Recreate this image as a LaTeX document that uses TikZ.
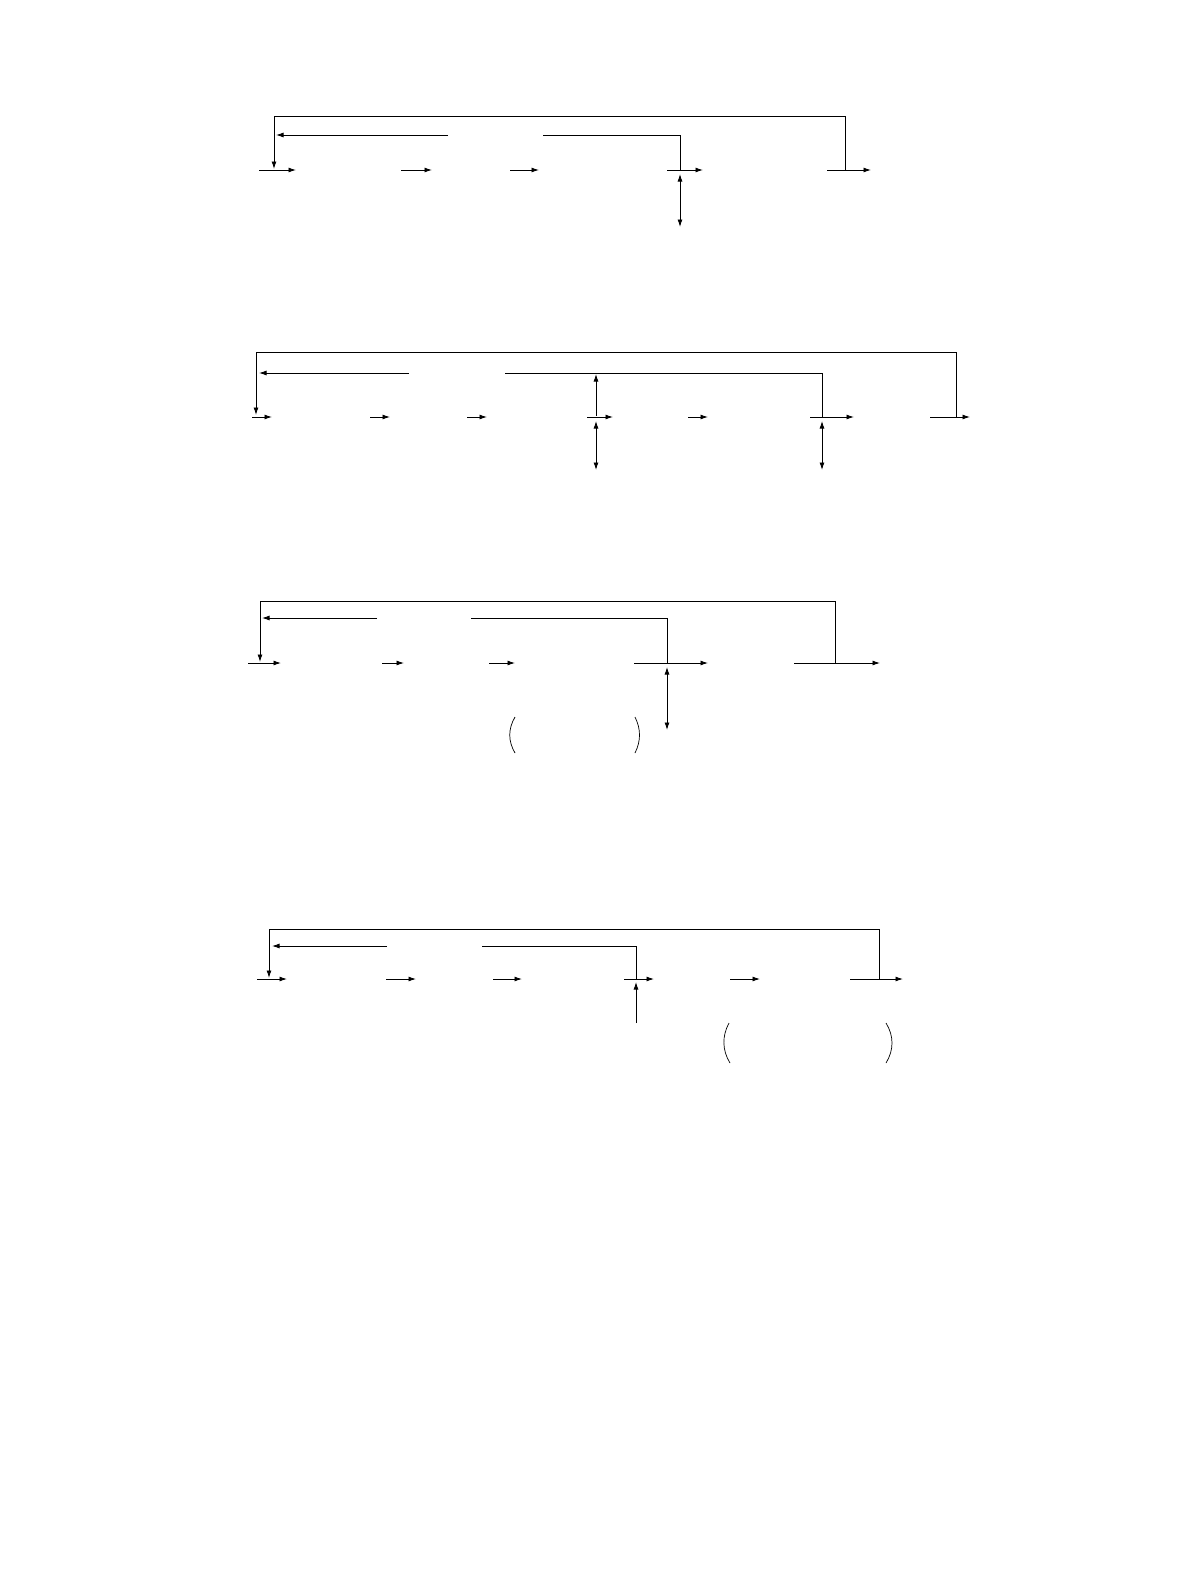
\documentclass[tikz,border=0pt]{standalone}
\usetikzlibrary{arrows.meta}
\tikzset{
  ln/.style={line width=0.9pt},
  arr/.style={ln, -{Latex[length=7.5pt,width=5pt]}},
  darr/.style={ln, {Latex[length=7.5pt,width=5pt]}-{Latex[length=7.5pt,width=5pt]}},
  paren/.style={line width=0.7pt},
}
\begin{document}
\begin{tikzpicture}[x=1pt,y=-1pt]
\useasboundingbox (0,0) rectangle (1190,1584);

% ---------- Diagram 1 ----------
\coordinate (A-ol) at (274,116); \coordinate (A-or) at (845,116);
\coordinate (A-lt) at (274,169); \coordinate (A-rj) at (845,170);
\draw[arr] (A-rj) -- (A-or) -- (A-ol) -- (A-lt);
\coordinate (A-i1) at (448,135); \coordinate (A-i1t) at (276,135);
\draw[arr] (A-i1) -- (A-i1t);
\coordinate (A-i2) at (543,135); \coordinate (A-ic) at (680,135); \coordinate (A-ij) at (680,170);
\draw[ln] (A-i2) -- (A-ic) -- (A-ij);
\foreach \a/\b [count=\k] in {259/296,401/432,510/539,667/703,827/871}{
  \coordinate (A-m\k s) at (\a,170); \coordinate (A-m\k e) at (\b,170);
  \draw[arr] (A-m\k s) -- (A-m\k e);
}
\coordinate (A-d1) at (680,174); \coordinate (A-d2) at (680,227);
\draw[darr] (A-d1) -- (A-d2);

% ---------- Diagram 2 ----------
\coordinate (B-ol) at (256,352); \coordinate (B-or) at (956,352);
\coordinate (B-lt) at (256,415); \coordinate (B-rj) at (956,417);
\draw[arr] (B-rj) -- (B-or) -- (B-ol) -- (B-lt);
\coordinate (B-i1) at (409,373); \coordinate (B-i1t) at (259,373);
\draw[arr] (B-i1) -- (B-i1t);
\coordinate (B-i2) at (505,373); \coordinate (B-ic) at (822,373); \coordinate (B-ij) at (822,417);
\draw[ln] (B-i2) -- (B-ic) -- (B-ij);
\foreach \a/\b [count=\k] in {252/272,370/390,467/487,587/613,688/708,810/854,930/970}{
  \coordinate (B-m\k s) at (\a,417); \coordinate (B-m\k e) at (\b,417);
  \draw[arr] (B-m\k s) -- (B-m\k e);
}
\coordinate (B-u1) at (596,416); \coordinate (B-u2) at (596,374);
\draw[arr] (B-u1) -- (B-u2);
\coordinate (B-d1) at (596,421); \coordinate (B-d2) at (596,470);
\draw[darr] (B-d1) -- (B-d2);
\coordinate (B-e1) at (822,421); \coordinate (B-e2) at (822,470);
\draw[darr] (B-e1) -- (B-e2);

% ---------- Diagram 3 ----------
\coordinate (C-ol) at (260,601); \coordinate (C-or) at (835,601);
\coordinate (C-lt) at (260,662); \coordinate (C-rj) at (835,663);
\draw[arr] (C-rj) -- (C-or) -- (C-ol) -- (C-lt);
\coordinate (C-i1) at (377,618); \coordinate (C-i1t) at (262,618);
\draw[arr] (C-i1) -- (C-i1t);
\coordinate (C-i2) at (471,618); \coordinate (C-ic) at (667,618); \coordinate (C-ij) at (667,663);
\draw[ln] (C-i2) -- (C-ic) -- (C-ij);
\foreach \a/\b [count=\k] in {248/281,382/404,489/515,634/708,794/880}{
  \coordinate (C-m\k s) at (\a,663); \coordinate (C-m\k e) at (\b,663);
  \draw[arr] (C-m\k s) -- (C-m\k e);
}
\coordinate (C-d1) at (667,667); \coordinate (C-d2) at (667,730);
\draw[darr] (C-d1) -- (C-d2);
\draw[paren] (515,717) .. controls (508,729) and (508,741) .. (515,753);
\draw[paren] (635,717) .. controls (641,729) and (641,741) .. (635,753);

% ---------- Diagram 4 ----------
\coordinate (D-ol) at (269,929); \coordinate (D-or) at (879,929);
\coordinate (D-lt) at (269,978); \coordinate (D-rj) at (879,979);
\draw[arr] (D-rj) -- (D-or) -- (D-ol) -- (D-lt);
\coordinate (D-i1) at (387,946); \coordinate (D-i1t) at (272,946);
\draw[arr] (D-i1) -- (D-i1t);
\coordinate (D-i2) at (482,946); \coordinate (D-ic) at (636,946); \coordinate (D-ij) at (636,979);
\draw[ln] (D-i2) -- (D-ic) -- (D-ij);
\foreach \a/\b [count=\k] in {257/287,386/416,493/522,624/654,730/760,850/903}{
  \coordinate (D-m\k s) at (\a,979); \coordinate (D-m\k e) at (\b,979);
  \draw[arr] (D-m\k s) -- (D-m\k e);
}
\coordinate (D-u1) at (636,1023); \coordinate (D-u2) at (636,982);
\draw[arr] (D-u1) -- (D-u2);
\draw[paren] (729,1023) .. controls (722,1036) and (722,1050) .. (730,1063);
\draw[paren] (886,1023) .. controls (894,1036) and (894,1050) .. (886,1063);
\end{tikzpicture}
\end{document}
